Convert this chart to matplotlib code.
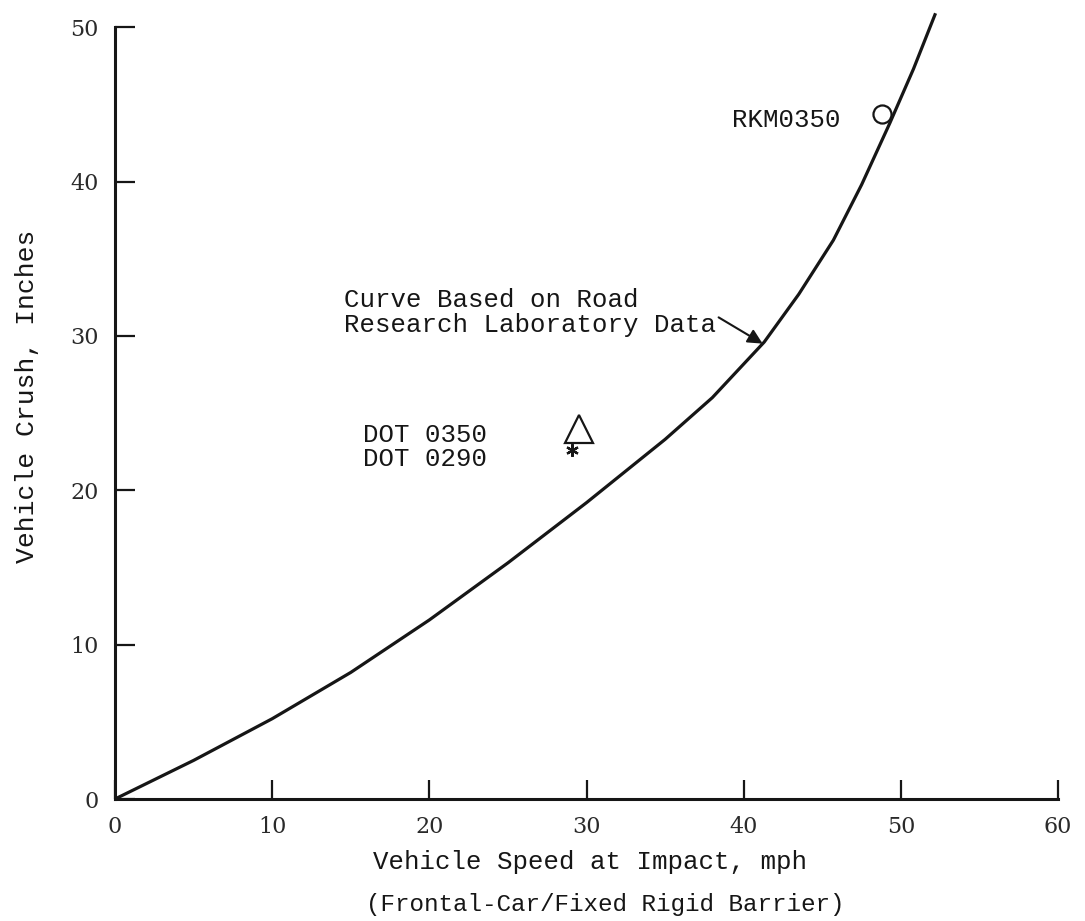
import matplotlib
matplotlib.use("Agg")
import matplotlib.pyplot as plt

# values
speed_mph = [0, 5, 10, 15, 20, 25, 30, 35, 38, 41.3, 43.5, 45.7, 47.5, 49.3, 50.8, 52.2]
crush_in = [0, 2.5, 5.2, 8.2, 11.6, 15.3, 19.2, 23.3, 26.0, 29.6, 32.7, 36.2, 39.8, 43.8, 47.3, 50.9]

rkm_speed, rkm_crush = [48.8], [44.4]          # RKM0350
dot350_speed, dot350_crush = [29.5], [24.0]    # DOT 0350 (triangle)
dot290_speed, dot290_crush = [29.1], [22.6]    # DOT 0290 (asterisk)

xticks = [0, 10, 20, 30, 40, 50, 60]
yticks = [0, 10, 20, 30, 40, 50]

mono = "Liberation Mono"
ink = "#161616"

fig = plt.figure(figsize=(10.85, 9.21), dpi=100)
ax = fig.add_axes([115 / 1085, 1 - 799 / 921, 951 / 1085, 795 / 921])
ax.set_xlim(0, 60.5)
ax.set_ylim(0, 51.5)

ax.plot(speed_mph, crush_in, color=ink, lw=2.3, solid_capstyle="butt",
        solid_joinstyle="round", clip_on=False)
ax.plot(rkm_speed, rkm_crush, "o", ms=13, mfc="none", mec=ink, mew=1.6)
ax.plot(dot350_speed, dot350_crush, "^", ms=20, mfc="none", mec=ink, mew=1.6)
ax.plot(dot290_speed, dot290_crush, marker=(6, 2, 0), ms=9, color=ink, mew=1.6, ls="none")

for s in ["top", "right"]:
    ax.spines[s].set_visible(False)
for s in ["left", "bottom"]:
    ax.spines[s].set_linewidth(2.2)
    ax.spines[s].set_color(ink)
ax.spines["bottom"].set_bounds(0, 60)
ax.spines["left"].set_bounds(0, 50)

ax.set_xticks(xticks)
ax.set_yticks(yticks)
ax.tick_params(axis="x", direction="in", length=13.5, width=1.6, pad=12, colors=ink,
               labelsize=16)
ax.tick_params(axis="y", direction="in", length=14.5, width=1.6, pad=12, colors=ink,
               labelsize=16)
for lab in ax.get_xticklabels() + ax.get_yticklabels():
    lab.set_family("DejaVu Serif")
    lab.set_color("#2a2a2a")

ax.text(14.6, 30.25, "Curve Based on Road\nResearch Laboratory Data", family=mono,
        fontsize=18.5, color=ink, va="baseline", ha="left", linespacing=1.05)
ax.annotate("", xy=(41.2, 29.5), xytext=(38.4, 31.2),
            arrowprops=dict(arrowstyle="-|>", color=ink, lw=1.5, mutation_scale=22,
                            shrinkA=0, shrinkB=0))
ax.text(15.8, 21.6, "DOT 0350\nDOT 0290", family=mono, fontsize=18.5, color=ink,
        va="baseline", ha="left", linespacing=1.0)
ax.text(39.25, 43.5, "RKM0350", family=mono, fontsize=18.5, color=ink,
        va="baseline", ha="left")

fig.text(590 / 1085, 1 - 862 / 921, "Vehicle Speed at Impact, mph", family=mono,
         fontsize=18.5, color=ink, ha="center", va="center")
fig.text(605 / 1085, 1 - 904 / 921, "(Frontal-Car/Fixed Rigid Barrier)", family=mono,
         fontsize=17.5, color=ink, ha="center", va="center")
fig.text(27 / 1085, 1 - 396 / 921, "Vehicle Crush, Inches", family=mono,
         fontsize=19, color=ink, ha="center", va="center", rotation=90)

fig.savefig("out.png", dpi=100, facecolor="white")
